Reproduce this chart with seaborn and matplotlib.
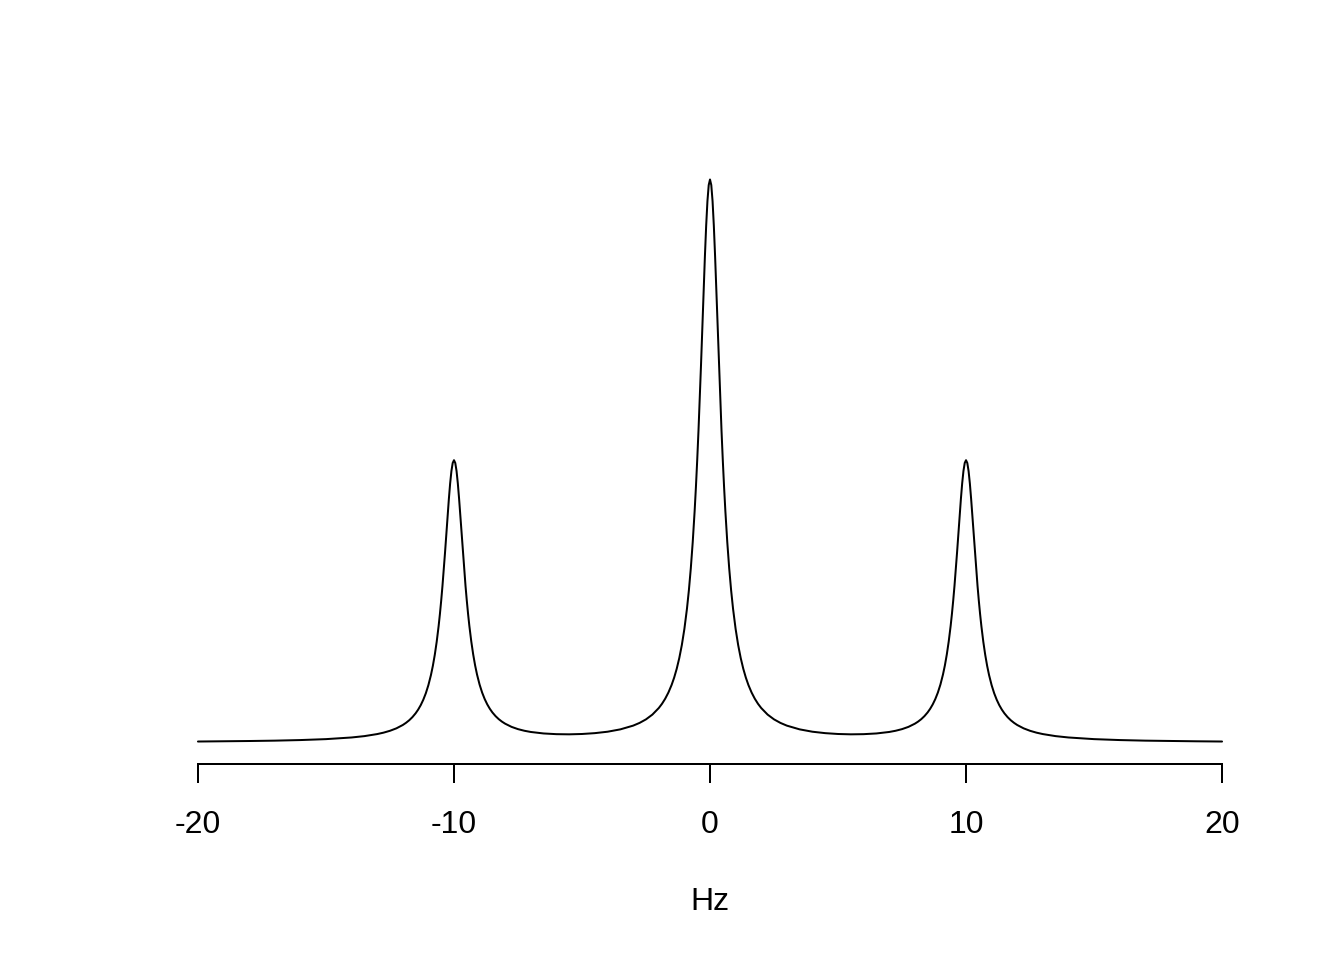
import matplotlib
matplotlib.use("Agg")

import seaborn as sns
import pandas as pd
import matplotlib.pyplot as plt

#%%
# Spectrum: 1:2:1 triplet, peaks at -10, 0 and 10 Hz
hz = [-20, -19, -18, -17, -16, -15, -14,
      -13.5, -13, -12.75, -12.5, -12.25, -12,
      -11.875, -11.75, -11.625, -11.5, -11.4, -11.3, -11.2, -11.1, -11,
      -10.9, -10.825, -10.75, -10.675, -10.6, -10.55, -10.5, -10.45, -10.4,
      -10.35, -10.3, -10.25, -10.2, -10.15, -10.1, -10.05, -10,
      -9.95, -9.9, -9.85, -9.8, -9.75, -9.7, -9.65, -9.6, -9.55, -9.5, -9.45, -9.4,
      -9.325, -9.25, -9.175, -9.1, -9,
      -8.9, -8.8, -8.7, -8.6, -8.5,
      -8.375, -8.25, -8.125, -8,
      -7.75, -7.5, -7.25, -7,
      -6.5, -6, -5.5, -5, -4.5,
      -4, -3.5, -3, -2.75, -2.5, -2.25, -2,
      -1.875, -1.75, -1.625, -1.5, -1.4, -1.3, -1.2, -1.1, -1,
      -0.9, -0.825, -0.75, -0.675, -0.6, -0.55, -0.5, -0.45, -0.4,
      -0.35, -0.3, -0.25, -0.2, -0.15, -0.1, -0.05, 0,
      0.05, 0.1, 0.15, 0.2, 0.25, 0.3, 0.35, 0.4, 0.45, 0.5, 0.55, 0.6,
      0.675, 0.75, 0.825, 0.9, 1,
      1.1, 1.2, 1.3, 1.4, 1.5, 1.625, 1.75, 1.875, 2,
      2.25, 2.5, 2.75, 3, 3.5, 4,
      4.5, 5, 5.5, 6, 6.5,
      7, 7.25, 7.5, 7.75,
      8, 8.125, 8.25, 8.375,
      8.5, 8.6, 8.7, 8.8, 8.9,
      9, 9.1, 9.175, 9.25, 9.325,
      9.4, 9.45, 9.5, 9.55, 9.6, 9.65, 9.7, 9.75, 9.8, 9.85, 9.9, 9.95,
      10, 10.05, 10.1, 10.15, 10.2, 10.25, 10.3, 10.35,
      10.4, 10.45, 10.5, 10.55, 10.6, 10.675, 10.75, 10.825, 10.9,
      11, 11.1, 11.2, 11.3, 11.4, 11.5, 11.625, 11.75, 11.875,
      12, 12.25, 12.5, 12.75, 13, 13.5,
      14, 15, 16, 17, 18, 19, 20]

intensity = [0.0040, 0.0048, 0.0058, 0.0071, 0.0092, 0.0125, 0.0184,
             0.0232, 0.0305, 0.0356, 0.0422, 0.0509, 0.0628,
             0.0705, 0.0796, 0.0907, 0.1043, 0.1175, 0.1333, 0.1525, 0.1758, 0.2047,
             0.2406, 0.2735, 0.3126, 0.3593, 0.4149, 0.4576, 0.5051, 0.5577, 0.6150,
             0.6764, 0.7406, 0.8054, 0.8675, 0.9229, 0.9670, 0.9957, 1.0056,
             0.9958, 0.9673, 0.9232, 0.8679, 0.8059, 0.7412, 0.6771, 0.6158, 0.5586, 0.5062, 0.4587, 0.4161,
             0.3607, 0.3142, 0.2752, 0.2426, 0.2068,
             0.1782, 0.1551, 0.1362, 0.1206, 0.1076,
             0.0943, 0.0835, 0.0747, 0.0674,
             0.0561, 0.0481, 0.0423, 0.0380,
             0.0327, 0.0302, 0.0296, 0.0308, 0.0338,
             0.0389, 0.0473, 0.0606, 0.0703, 0.0829, 0.0999, 0.1233,
             0.1383, 0.1564, 0.1784, 0.2053, 0.2315, 0.2630, 0.3011, 0.3476, 0.4051,
             0.4768, 0.5424, 0.6205, 0.7136, 0.8247, 0.9100, 1.0050, 1.1100, 1.2245,
             1.3473, 1.4756, 1.6050, 1.7291, 1.8399, 1.9281, 1.9852, 2.0050,
             1.9852, 1.9281, 1.8399, 1.7291, 1.6050, 1.4756, 1.3473, 1.2245, 1.1100, 1.0050, 0.9100, 0.8247,
             0.7136, 0.6205, 0.5424, 0.4768, 0.4051,
             0.3476, 0.3011, 0.2630, 0.2315, 0.2053, 0.1784, 0.1564, 0.1383, 0.1233,
             0.0999, 0.0829, 0.0703, 0.0606, 0.0473, 0.0389,
             0.0338, 0.0308, 0.0296, 0.0302, 0.0327,
             0.0380, 0.0423, 0.0481, 0.0561,
             0.0674, 0.0747, 0.0835, 0.0943,
             0.1076, 0.1206, 0.1362, 0.1551, 0.1782,
             0.2068, 0.2426, 0.2752, 0.3142, 0.3607,
             0.4161, 0.4587, 0.5062, 0.5586, 0.6158, 0.6771, 0.7412, 0.8059, 0.8679, 0.9232, 0.9673, 0.9958,
             1.0056, 0.9957, 0.9670, 0.9229, 0.8675, 0.8054, 0.7406, 0.6764,
             0.6150, 0.5577, 0.5051, 0.4576, 0.4149, 0.3593, 0.3126, 0.2735, 0.2406,
             0.2047, 0.1758, 0.1525, 0.1333, 0.1175, 0.1043, 0.0907, 0.0796, 0.0705,
             0.0628, 0.0509, 0.0422, 0.0356, 0.0305, 0.0232,
             0.0184, 0.0125, 0.0092, 0.0071, 0.0058, 0.0048, 0.0040]

x_ticks = [-20, -10, 0, 10, 20]
x_label = "Hz"

spectrum_df = pd.DataFrame({"Hz": hz, "intensity": intensity})

#%%
sns.set_style("white")
plt.rcParams["font.family"] = ["Liberation Sans", "DejaVu Sans"]

fig = plt.figure(figsize=(7, 5), dpi=192)
ax = fig.add_axes([157 / 1344, 196 / 960, 1106 / 1344, 607 / 960])

sns.lineplot(data=spectrum_df, x="Hz", y="intensity", color="black",
             linewidth=0.75, estimator=None, sort=False, ax=ax)
ax.margins(x=0.04, y=0.04)

ax.set_xticks(x_ticks)
ax.set_xticklabels([str(t) for t in x_ticks])
ax.tick_params(axis="x", direction="out", length=7.2, width=0.75, pad=10,
               labelsize=12, colors="black", bottom=True)
ax.set_yticks([])
ax.set_ylabel("")

for side in ["left", "top", "right"]:
    ax.spines[side].set_visible(False)
ax.spines["bottom"].set_bounds(x_ticks[0], x_ticks[-1])
ax.spines["bottom"].set_linewidth(0.75)
ax.spines["bottom"].set_color("black")

ax.set_xlabel(x_label, fontsize=12, color="black")
ax.xaxis.set_label_coords(0.5, -0.2026)

fig.savefig("out.png", dpi=192, facecolor="white")
